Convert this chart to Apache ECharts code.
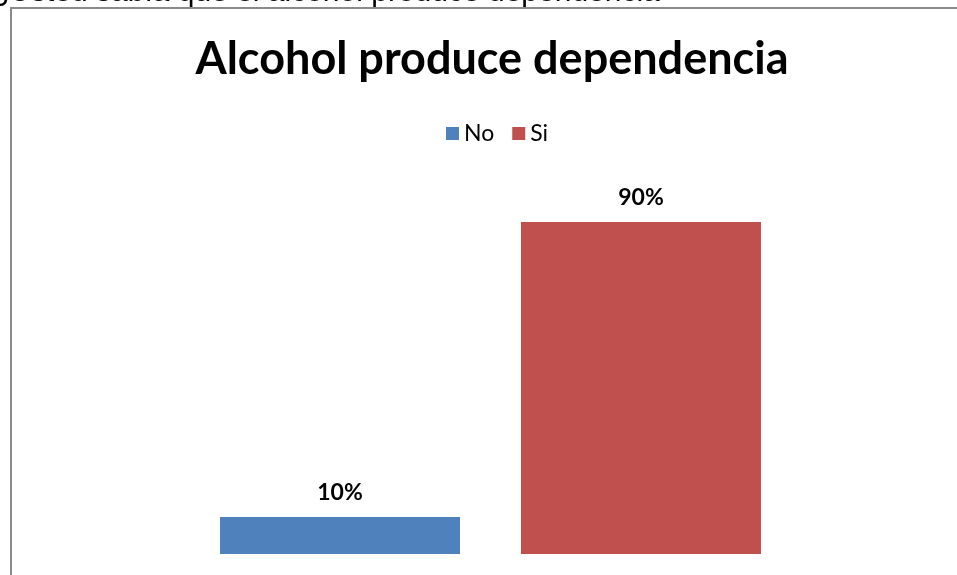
<!DOCTYPE html>
<html>
<head>
<meta charset="utf-8">
<script src="https://cdn.jsdelivr.net/npm/echarts@6/dist/echarts.min.js"></script>
<style>
  html, body { margin: 0; padding: 0; background: #fff; }
  #echart { width: 957px; height: 575px; }
</style>
</head>
<body>
<div id="echart"></div>
<script>
const categories = ['Alcohol produce dependencia'];
const seriesNames = ['No', 'Si'];
const seriesValues = [[10], [90]];
const seriesColors = ['#4f81bd', '#c0504d'];

const myChart = echarts.init(document.getElementById('echart'));

myChart.setOption({
  animation: false,
  textStyle: { fontFamily: 'Lato' },
  title: {
    text: 'Alcohol produce dependencia',
    left: 487,
    textAlign: 'center',
    top: 32,
    textStyle: { fontSize: 45, fontWeight: 'bold', color: '#000', fontFamily: 'Lato' },
  },
  legend: {
    data: seriesNames,
    left: 441,
    top: 117,
    itemWidth: 13,
    itemHeight: 13,
    itemGap: 18,
    icon: 'rect',
    textStyle: { fontSize: 23, color: '#000', fontFamily: 'Lato' },
  },
  // caja del grafico y texto cortado arriba
  graphic: [
    {
      type: 'rect',
      shape: { x: 11, y: 8, width: 1000, height: 600 },
      style: { fill: 'none', stroke: '#8a8a8a', lineWidth: 2 },
      silent: true,
    },
    {
      type: 'text',
      left: -9,
      top: -22,
      style: {
        text: '¿Usted sabía que el alcohol produce dependencia',
        fontSize: 30,
        fontFamily: 'Liberation Sans',
        fill: '#000',
      },
    },
  ],
  grid: {
    left: 100,
    right: 76,
    top: 185,
    bottom: 21,
  },
  xAxis: {
    type: 'category',
    data: categories,
    show: false,
  },
  yAxis: {
    type: 'value',
    min: 0,
    max: 100,
    show: false,
  },
  series: seriesNames.map((name, i) => ({
    name: name,
    type: 'bar',
    data: seriesValues[i],
    barWidth: 240,
    barGap: '25.4%',
    itemStyle: { color: seriesColors[i] },
    label: {
      show: true,
      position: 'top',
      distance: 13,
      formatter: '{c}%',
      fontSize: 23,
      fontWeight: 'bold',
      color: '#000',
      fontFamily: 'Lato',
    },
  })),
});
</script>
</body>
</html>
